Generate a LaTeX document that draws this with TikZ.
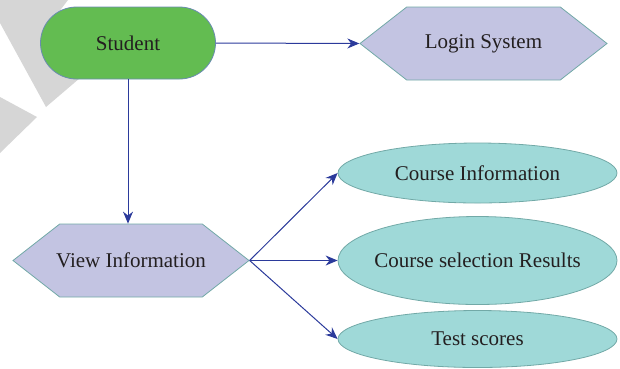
\documentclass[tikz,border=0pt]{standalone}
\usepackage{fontspec}
\setmainfont{Liberation Serif}
\usetikzlibrary{shapes.geometric,shapes.misc,shapes.symbols,arrows.meta}
\definecolor{SVgruen}{HTML}{63BC51}
\definecolor{SVrand}{HTML}{6A8CB0}
\definecolor{SVlila}{HTML}{C3C4E2}
\definecolor{SVtuerkis}{HTML}{9FD9D8}
\definecolor{SVteal}{HTML}{72A9A7}
\definecolor{SVblau}{HTML}{2B3A9B}
\definecolor{SVgrau}{HTML}{D6D6D6}
\definecolor{SVtext}{HTML}{231F20}
\newcommand{\svfont}{\fontsize{21}{24}\selectfont}
\tikzset{
  startbox/.style={rounded rectangle, draw=SVrand, fill=SVgruen, line width=0.8pt,
    minimum width=175pt, minimum height=72pt, inner sep=0pt, font=\svfont, text=SVtext},
  sechseck/.style={signal, signal to=east and west, signal pointer angle=76,
    draw=SVteal, fill=SVlila, line width=0.8pt, minimum height=73pt,
    inner ysep=0pt, inner xsep=-20pt, font=\svfont, text=SVtext},
  oval/.style={ellipse, draw=SVteal, fill=SVtuerkis, line width=0.8pt,
    minimum width=279pt, inner ysep=0pt, inner xsep=-8pt, font=\svfont, text=SVtext},
  pfeil/.style={draw=SVblau, line width=1pt, -{Stealth[length=12pt,width=10pt]}},
}

\begin{document}
\begin{tikzpicture}[x=1pt, y=-1pt]

\useasboundingbox (0,0) rectangle (620,368);

% ====================================================================
%
%         Hintergrund
%
% ====================================================================

  % graue Keile links oben
  \fill[SVgrau] (0,0) -- (68,0) -- (45,30) -- (80,78) -- (46,107) -- (0,23) -- cycle;
  \fill[SVgrau] (0,97) -- (37,117) -- (0,153) -- cycle;

% ====================================================================
%
%         Knoten
%
% ====================================================================

  \node[startbox] (student) at (128,43) {Student};
  \node[sechseck, minimum width=247pt] (login) at (483.5,43.5) {Login System};
  \node[sechseck, minimum width=236pt] (view) at (131,260.5) {View Information};

  \node[oval, minimum height=60pt] (courseinfo) at (477.5,173) {Course Information};
  \node[oval, minimum height=88pt] (results) at (477.5,260.5) {Course selection Results};
  \node[oval, minimum height=57pt] (scores) at (477.5,339) {Test scores};

% ====================================================================
%
%         Pfeile
%
% ====================================================================

  \draw[pfeil] (student.east) -- (login.west);
  \draw[pfeil] (student.south) -- (student.south |- view.north);

  \draw[pfeil] (view.east) -- (courseinfo.west);
  \draw[pfeil] (view.east) -- (results.west);
  \draw[pfeil] (view.east) -- (scores.west);

\end{tikzpicture}
\end{document}
